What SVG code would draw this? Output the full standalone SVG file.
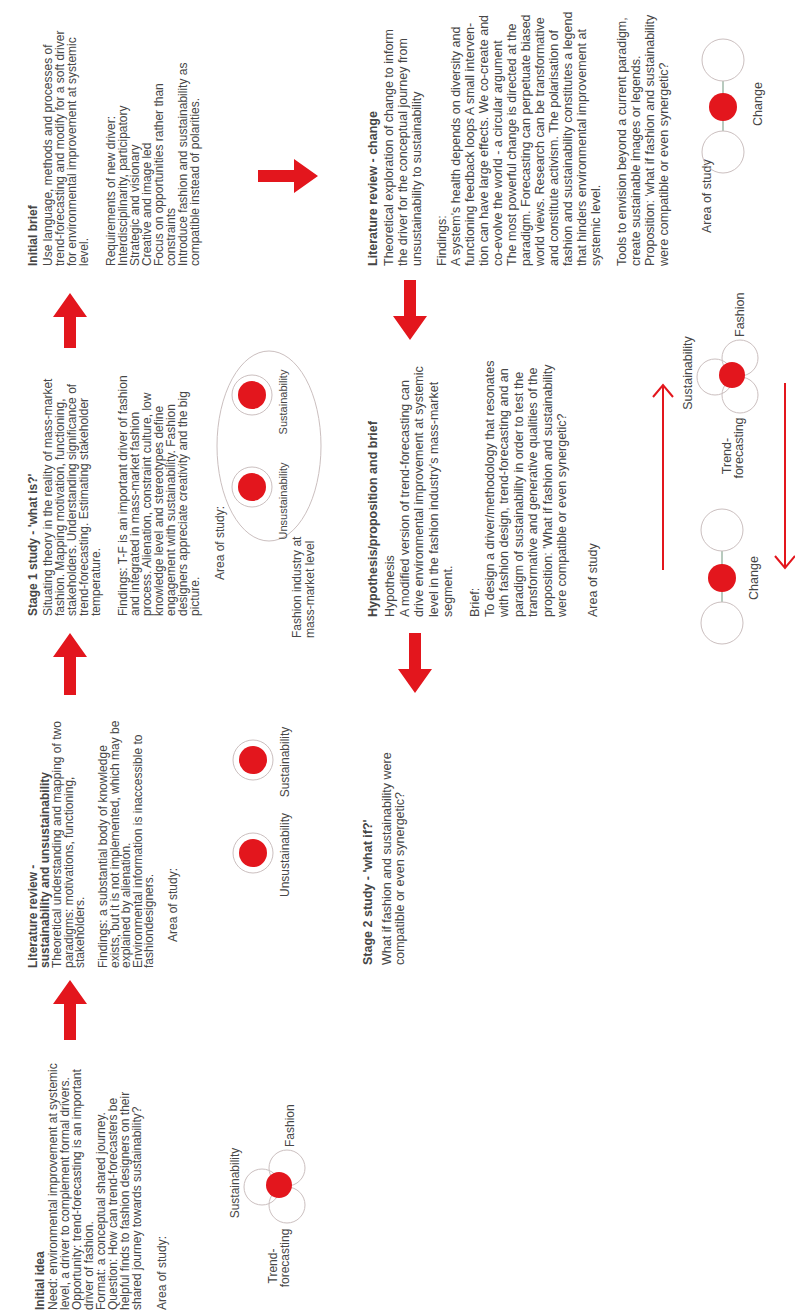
<svg xmlns="http://www.w3.org/2000/svg" width="795" height="1316" viewBox="0 0 795 1316">
<style>
.t{font-family:"Liberation Sans",Arial,sans-serif;font-size:12px;fill:#464646}
.h{font-weight:bold}
.r2{font-size:12.5px}
.m{text-anchor:middle}
.big{fill:#e3161d}
.thin{stroke:#e3161d;stroke-width:2;fill:none}
.ring{fill:none;stroke:#cbbfbf;stroke-width:1}
.dot{fill:#e3161d}
.link{stroke:#9fb8a8;stroke-width:1.5}
</style>
<rect width="795" height="1316" fill="#ffffff"/>
<g transform="translate(0,1316) rotate(-90)">
<g id="initial-idea" class="t">
<text x="6" y="44" class="h">Initial idea</text>
<text x="6" y="57">Need: environmental improvement at systemic</text>
<text x="6" y="69">level, a driver to complement formal drivers.</text>
<text x="6" y="81">Opportunity: trend-forecasting is an important</text>
<text x="6" y="93">driver of fashion.</text>
<text x="6" y="105">Format: a conceptual shared journey.</text>
<text x="6" y="117">Question: How can trend-forecasters be</text>
<text x="6" y="129">helpful finds to fashion designers on their</text>
<text x="6" y="141">shared journey towards sustainability?</text>
<text x="6" y="166">Area of study:</text>
<circle class="ring" cx="129" cy="262" r="18"/>
<circle class="ring" cx="148" cy="287" r="18"/>
<circle class="ring" cx="111" cy="287" r="18"/>
<circle class="dot" cx="131" cy="279" r="13"/>
<text x="133" y="239" class="m">Sustainability</text>
<text x="169" y="294">Fashion</text>
<text x="50" y="277" class="m">Trend-</text>
<text x="58" y="289" class="m">forecasting</text>
</g>
<g id="literature-review-sustainability" class="t">
<text x="348" y="37" class="h">Literature review -</text>
<text x="348" y="48.5" class="h">sustainability and unsustainability</text>
<text x="348" y="61">Theoretical understanding and mapping of two</text>
<text x="348" y="72.5">paradigms: motivations, functioning,</text>
<text x="348" y="84">stakeholders.</text>
<text x="348" y="107">Findings: a substantial body of knowledge</text>
<text x="348" y="118.5">exists, but it is not implemented, which may be</text>
<text x="348" y="130">explained by alienation.</text>
<text x="348" y="141.5">Environmental information is inaccessible to</text>
<text x="348" y="153">fashiondesigners.</text>
<text x="374" y="177">Area of study:</text>
<circle class="ring" cx="463" cy="253" r="20"/>
<circle class="dot" cx="463" cy="253" r="14"/>
<circle class="ring" cx="556" cy="253" r="20"/>
<circle class="dot" cx="556" cy="253" r="14"/>
<text x="461" y="289" class="m">Unsustainability</text>
<text x="554" y="289" class="m">Sustainability</text>
</g>
<g id="stage-1-study" class="t">
<text x="700" y="37" class="h">Stage 1 study - 'what is?'</text>
<text x="700" y="52">Situating theory in the reality of mass-market</text>
<text x="700" y="64">fashion. Mapping motivation, functioning,</text>
<text x="700" y="76">stakeholders. Understanding significance of</text>
<text x="700" y="88">trend-forecasting. Estimating stakeholder</text>
<text x="700" y="100">temperature.</text>
<text x="700" y="127">Findings: T-F is an important driver of fashion</text>
<text x="700" y="139">and integrated in mass-market fashion</text>
<text x="700" y="151">process. Alienation, constraint culture, low</text>
<text x="700" y="163">knowledge level and stereotypes define</text>
<text x="700" y="175">engagement with sustainability. Fashion</text>
<text x="700" y="187">designers appreciate creativity and the big</text>
<text x="700" y="199">picture.</text>
<text x="736" y="224">Area of study:</text>
<ellipse class="ring" cx="870" cy="269" rx="95" ry="52"/>
<circle class="ring" cx="829" cy="252" r="20"/>
<circle class="dot" cx="829" cy="252" r="14"/>
<circle class="ring" cx="921" cy="252" r="20"/>
<circle class="dot" cx="921" cy="252" r="14"/>
<text x="815" y="287" class="m" style="font-size:11px">Unsustainability</text>
<text x="914" y="287" class="m" style="font-size:11px">Sustainability</text>
<text x="678" y="301">Fashion industry at</text>
<text x="678" y="314">mass-market level</text>
</g>
<g id="initial-brief" class="t">
<text x="1050" y="37" class="h">Initial brief</text>
<text x="1050" y="52">Use language, methods and processes of</text>
<text x="1050" y="64">trend-forecasting and modify for a soft driver</text>
<text x="1050" y="76">for environmental improvement at systemic</text>
<text x="1050" y="88">level.</text>
<text x="1050" y="115">Requirements of new driver:</text>
<text x="1050" y="127">Interdisciplinarity, participatory</text>
<text x="1050" y="139">Strategic and visionary</text>
<text x="1050" y="151">Creative and image led</text>
<text x="1050" y="163">Focus on opportunities rather than</text>
<text x="1050" y="175">constraints</text>
<text x="1050" y="187">Introduce fashion and sustainability as</text>
<text x="1050" y="199">compatible instead of polarities.</text>
</g>
<g id="stage-2-study" class="t r2">
<text x="351" y="372" class="h">Stage 2 study - 'what if?'</text>
<text x="351" y="391">What if fashion and sustainability were</text>
<text x="351" y="404">compatible or even synergetic?</text>
</g>
<g id="hypothesis" class="t r2">
<text x="699" y="377" class="h">Hypothesis/proposition and brief</text>
<text x="699" y="394">Hypothesis</text>
<text x="699" y="408.5">A modified version of trend-forecasting can</text>
<text x="699" y="423">drive environmental improvement at systemic</text>
<text x="699" y="437.5">level in the fashion industry's mass-market</text>
<text x="699" y="452">segment.</text>
<text x="699" y="479">Brief:</text>
<text x="699" y="493.5">To design a driver/methodology that resonates</text>
<text x="699" y="508">with fashion design, trend-forecasting and an</text>
<text x="699" y="522.5">paradigm of sustainability in order to test the</text>
<text x="699" y="537">transformative and generative qualities of the</text>
<text x="699" y="551.5">proposition: 'What if fashion and sustainability</text>
<text x="699" y="566">were compatible or even synergetic?</text>
<text x="699" y="597">Area of study</text>
<line class="link" x1="714" y1="722" x2="765" y2="722"/>
<circle class="ring" cx="693" cy="722" r="21"/>
<circle class="dot" cx="738" cy="722" r="14"/>
<circle class="ring" cx="786" cy="722" r="21"/>
<text x="738" y="758" class="m">Change</text>
<circle class="ring" cx="939" cy="715" r="18"/>
<circle class="ring" cx="958" cy="740" r="18"/>
<circle class="ring" cx="921" cy="740" r="18"/>
<circle class="dot" cx="941" cy="732" r="13"/>
<text x="943" y="692" class="m">Sustainability</text>
<text x="979" y="744">Fashion</text>
<text x="860" y="731" class="m">Trend-</text>
<text x="868" y="743" class="m">forecasting</text>
</g>
<g id="literature-review-change" class="t r2">
<text x="1050" y="377" class="h">Literature review - change</text>
<text x="1050" y="393">Theoretical exploration of change to inform</text>
<text x="1050" y="407">the driver for the conceptual journey from</text>
<text x="1050" y="421">unsustainability to sustainability</text>
<text x="1050" y="446">Findings:</text>
<text x="1050" y="460">A system's health depends on diversity and</text>
<text x="1050" y="474">functioning feedback loops A small interven-</text>
<text x="1050" y="488">tion can have large effects. We co-create and</text>
<text x="1050" y="502">co-evolve the world - a circular argument</text>
<text x="1050" y="516">The most powerful change is directed at the</text>
<text x="1050" y="530">paradigm. Forecasting can perpetuate biased</text>
<text x="1050" y="544">world views. Research can be transformative</text>
<text x="1050" y="558">and constitute activism. The polarisation of</text>
<text x="1050" y="572">fashion and sustainability constitutes a legend</text>
<text x="1050" y="586">that hinders environmental improvement at</text>
<text x="1050" y="600">systemic level.</text>
<text x="1050" y="626">Tools to envision beyond a current paradigm,</text>
<text x="1050" y="640">create sustainable images or legends.</text>
<text x="1050" y="654">Proposition: 'what if fashion and sustainability</text>
<text x="1050" y="668">were compatible or even synergetic?</text>
<text x="1083" y="711">Area of study</text>
<line class="link" x1="1185" y1="723" x2="1235" y2="723"/>
<circle class="ring" cx="1164" cy="723" r="21"/>
<circle class="dot" cx="1209" cy="723" r="14"/>
<circle class="ring" cx="1256" cy="723" r="21"/>
<text x="1212" y="762" class="m">Change</text>
</g>
<g id="connectors">
<path class="big" d="M276 64H312V53L336 70L312 87V76H276Z"/>
<path class="big" d="M621 64H659V53L683 70L659 87V76H621Z"/>
<path class="big" d="M968 64H999V53L1023 70L999 87V76H968Z"/>
<path class="big" d="M1134 258V294H1123L1140 318L1157 294H1146V258Z"/>
<path class="big" d="M1036 404H1000V393L976 410L1000 427V416H1036Z"/>
<path class="big" d="M683 409H647V398L623 415L647 432V421H683Z"/>
<path class="thin" d="M746 663H930M919 653L931 663L919 673"/>
<path class="thin" d="M933 785H749M760 775L748 785L760 795"/>
</g>
</g>
</svg>
